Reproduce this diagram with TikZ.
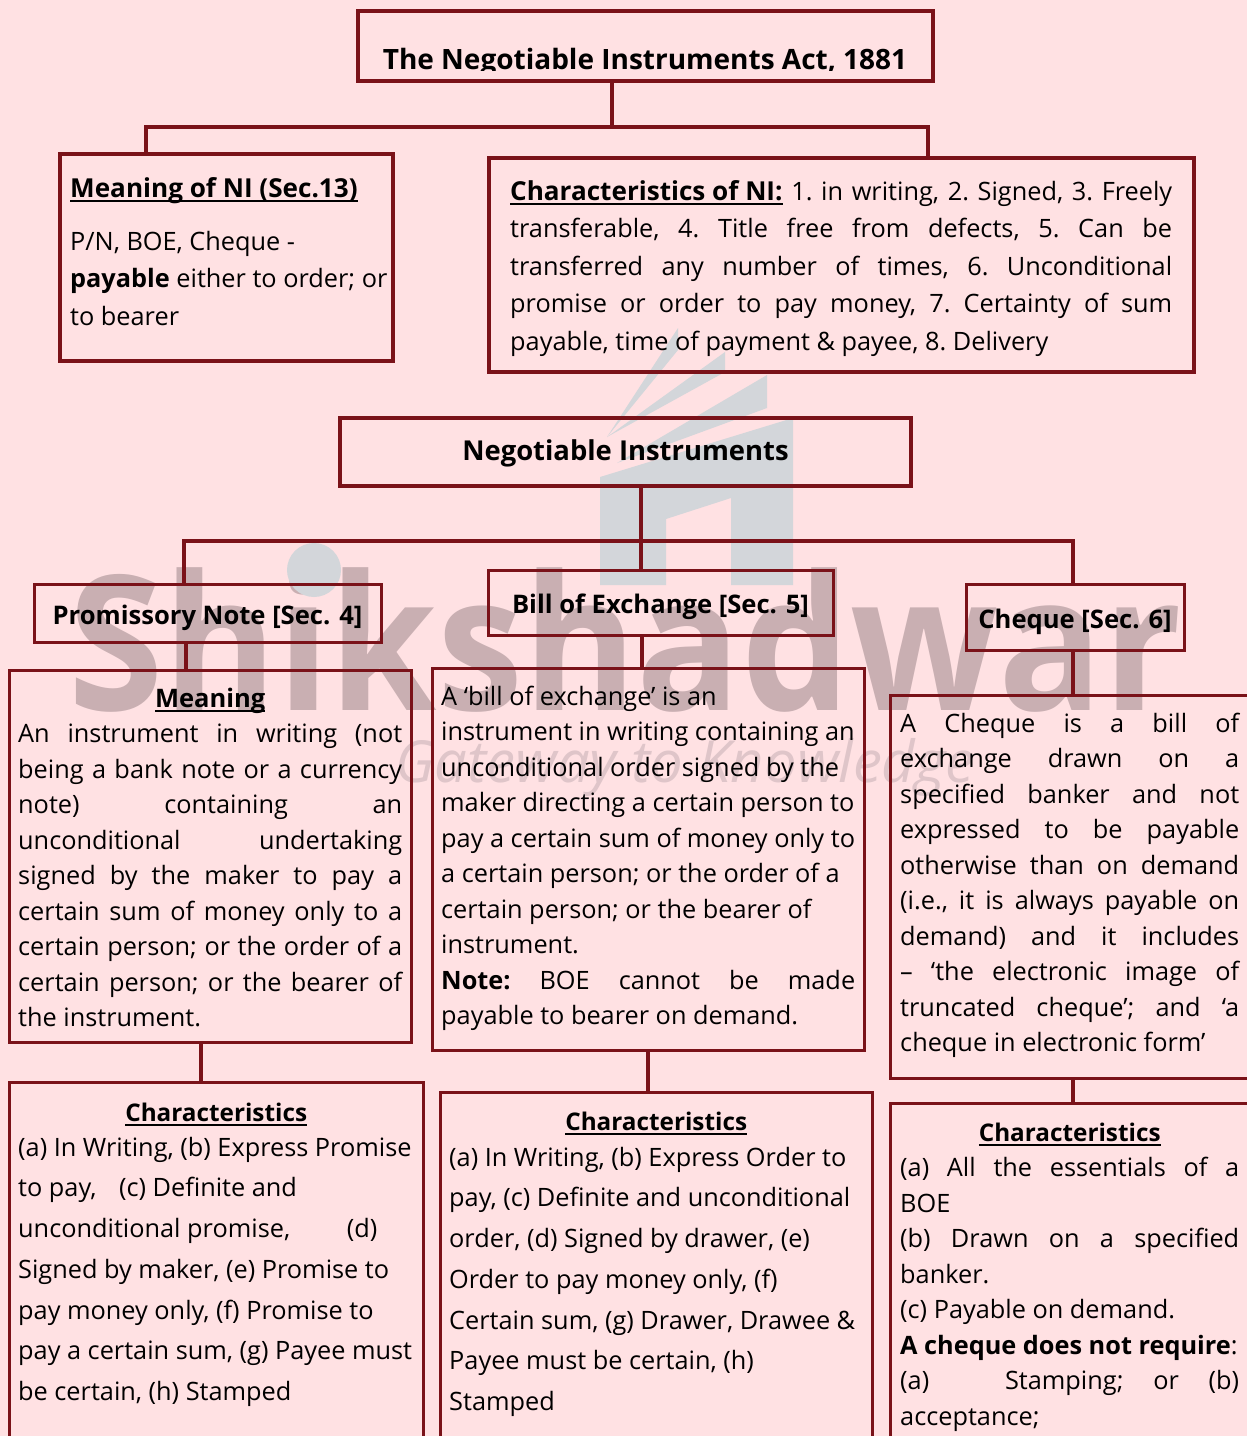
\documentclass[tikz,border=0pt]{standalone}
\usepackage{fontspec}
\setmainfont{Open Sans}
\usetikzlibrary{positioning}
\definecolor{pagepink}{HTML}{FFE1E3}
\definecolor{framered}{HTML}{7A1219}
\definecolor{markbrown}{HTML}{C9AFB2}
\definecolor{markblue}{HTML}{D3D6DA}
\definecolor{markscript}{HTML}{DFC5C9}
\newcommand{\nb}{\linebreak}
\newcommand{\hd}[2][24.3]{\leavevmode{\fontsize{#1}{35}\selectfont\bfseries\setbox0=\hbox{#2}\rlap{\rule[-4.5pt]{\wd0}{1.8pt}}\box0}}
\tikzset{
  frame/.style={draw=framered, anchor=north west, outer sep=0pt, inner sep=0pt, text height=28pt, text depth=6pt, font=\fontsize{25.6}{30}\selectfont\bfseries},
  link/.style={draw=framered, line width=3.2pt},
  body/.style={anchor=north west, inner sep=0pt, align=justify, execute at begin node=\frenchspacing\rule{0pt}{20pt}},
  pitcha/.style={font=\fontsize{25.3}{35.5}\selectfont},
  pitchb/.style={font=\fontsize{25.3}{37.5}\selectfont},
  pitchc/.style={font=\fontsize{25.3}{40.7}\selectfont}
}
\begin{document}
\begin{tikzpicture}[x=1pt,y=-1pt]
   \useasboundingbox (0,0) rectangle (1247,1436);
   \clip (0,0) rectangle (1247,1436);
   \fill[pagepink] (0,0) rectangle (1247,1436);

   % watermark first
   \fill[markblue] (600,477) -- (793,418) -- (793,585) -- (731,585) -- (731,498) -- (666,519) -- (666,585) -- (600,585) -- cycle;
   \fill[markblue] (617,463) -- (767,375) -- (767,408) -- cycle;
   \fill[markblue] (607,437) -- (725,352) -- (725,372) -- cycle;
   \fill[markblue] (607,437) -- (678,328) -- (678,350) -- cycle;
   \node[anchor=base, inner sep=0pt, text=markbrown, xscale=0.92, transform shape, font=\fontsize{188}{200}\selectfont\bfseries] (markname) at (625,710) {Shikshadwar};
   \fill[markblue] (314,570) circle (27);
   \node[anchor=base, inner sep=0pt, text=markscript, font=\fontsize{58}{60}\selectfont\itshape] (markline) at (685,782) {Gateway to Knowledge};

   % boxes: left/top/width/height/line/name/text
   \foreach \x/\y/\w/\h/\lw/\id/\name in {
      {358/11/575/70/3.6/acttitle/},
      {60/154/333/207/4/nimeaning/},
      {489/158/705/214/4/nichar/},
      {34/584/347/58/3/pnhead/Promissory Note [Sec. 4]},
      {488/570/345/65/3/boehead/Bill of Exchange [Sec. 5]},
      {966/584/218/66/3/chqhead/Cheque [Sec. 6]},
      {9/670/402/372/3/pnmeaning/},
      {432/668/432/382/3/boemeaning/},
      {890/695/370/383/3/chqmeaning/},
      {9/1082/414/370/3/pnchar/},
      {440/1092/432/370/3/boechar/},
      {890/1103/370/350/3/chqchar/}}
      \node[frame, line width=\lw pt, minimum width=\w pt, minimum height=\h pt] (\id) at (\x,\y) {\name};
   \node[frame, line width=4pt, minimum width=571pt, minimum height=68pt, text height=22pt, font=\fontsize{27.4}{30}\selectfont\bfseries] (nihead) at (340,418) {Negotiable Instruments};

   % connectors
   \coordinate (actdrop) at (612,127);
   \coordinate (actleft) at (146,127);
   \coordinate (actright) at (928,127);
   \draw[link] (actdrop |- acttitle.south) -- (actdrop);
   \draw[link] (actleft |- nimeaning.north) -- (actleft) -- (actright) -- (actright |- nichar.north);

   \coordinate (nidrop) at (641,541);
   \coordinate (nileft) at (184,541);
   \coordinate (niright) at (1073,541);
   \draw[link] (nidrop |- nihead.south) -- (nidrop) -- (nidrop |- boehead.north);
   \draw[link] (nileft |- pnhead.north) -- (nileft) -- (niright) -- (niright |- chqhead.north);

   \coordinate (pnx) at (186,0);
   \coordinate (boex) at (642,0);
   \coordinate (chqx) at (1073,0);
   \draw[link] (pnx |- pnhead.south) -- (pnx |- pnmeaning.north);
   \draw[link] (boex |- boehead.south) -- (boex |- boemeaning.north);
   \draw[link] (chqx |- chqhead.south) -- (chqx |- chqmeaning.north);

   \coordinate (pnlow) at (201,0);
   \coordinate (boelow) at (648,0);
   \draw[link] (pnlow |- pnmeaning.south) -- (pnlow |- pnchar.north);
   \draw[link] (boelow |- boemeaning.south) -- (boelow |- boechar.north);
   \draw[link] (chqx |- chqmeaning.south) -- (chqx |- chqchar.north);

   % title is cut off at the bottom
   \begin{scope}
      \clip (358,11) rectangle (933,70);
      \node[anchor=base, inner sep=0pt, font=\fontsize{28}{30}\selectfont\bfseries] (acttext) at (645,69) {The Negotiable Instruments Act, 1881};
   \end{scope}

   % first baseline sits 20 below each node's top
   \node[body, pitchb, text width=320pt] (nimeaningtext) at (70,177) {\hd[26.1]{Meaning of NI (Sec.13)}\\[15.5pt]
      P/N, BOE, Cheque -\\
      \textbf{payable} either to order; or\\
      to bearer};
   \node[body, pitchb, text width=662pt] (nichartext) at (510,180) {\hd[26.1]{Characteristics of NI:} 1. in writing, 2. Signed, 3. Freely\nb
      transferable, 4. Title free from defects, 5. Can be\nb
      transferred any number of times, 6. Unconditional\nb
      promise or order to pay money, 7. Certainty of sum\nb
      payable, time of payment \& payee, 8. Delivery};

   \node[body, pitcha, text width=384pt] (pnmeaningtext) at (18,687) {\hfill\hd[25.5]{Meaning}\hfill\mbox{}\nb
      An instrument in writing (not\nb
      being a bank note or a currency\nb
      note) containing an\nb
      unconditional undertaking\nb
      signed by the maker to pay a\nb
      certain sum of money only to a\nb
      certain person; or the order of a\nb
      certain person; or the bearer of\nb
      the instrument.};
   \node[body, pitcha, text width=414pt] (boemeaningtext) at (441,685) {A ‘bill of exchange’ is an\\
      instrument in writing containing an\\
      unconditional order signed by the\\
      maker directing a certain person to\\
      pay a certain sum of money only to\\
      a certain person; or the order of a\\
      certain person; or the bearer of\\
      instrument.\\
      \textbf{Note:} BOE cannot be made\nb
      payable to bearer on demand.};
   \node[body, pitcha, text width=339pt] (chqmeaningtext) at (900,712) {A Cheque is a bill of\nb
      exchange drawn on a\nb
      specified banker and not\nb
      expressed to be payable\nb
      otherwise than on demand\nb
      (i.e., it is always payable on\nb
      demand) and it includes\nb
      – ‘the electronic image of\nb
      truncated cheque’; and ‘a\nb
      cheque in electronic form’};

   \node[body, pitcha, text width=396pt] (pncharhead) at (18,1101) {\hfill\hd{Characteristics}\hfill\mbox{}};
   \node[body, pitchc, text width=402pt] (pnchartext) at (18,1136) {(a) In Writing, (b) Express Promise\\
      to pay,\hspace{16pt} (c) Definite and\\
      unconditional promise,\hspace{50pt} (d)\\
      Signed by maker, (e) Promise to\\
      pay money only, (f) Promise to\\
      pay a certain sum, (g) Payee must\\
      be certain, (h) Stamped};
   \node[body, pitcha, text width=414pt] (boecharhead) at (449,1110) {\hfill\hd{Characteristics}\hfill\mbox{}};
   \node[body, pitchc, text width=418pt] (boechartext) at (449,1146) {(a) In Writing, (b) Express Order to\\
      pay, (c) Definite and unconditional\\
      order, (d) Signed by drawer, (e)\\
      Order to pay money only, (f)\\
      Certain sum, (g) Drawer, Drawee \&\\
      Payee must be certain, (h)\\
      Stamped};
   \node[body, pitcha, text width=339pt] (chqchartext) at (900,1121) {\hfill\hd{Characteristics}\hfill\mbox{}\nb
      (a) All the essentials of a\nb
      BOE\\
      (b) Drawn on a specified\nb
      banker.\\
      (c) Payable on demand.\\
      \textbf{A cheque does not require}:\\
      (a)\hspace{46pt} Stamping; or (b)\nb
      acceptance;};
\end{tikzpicture}
\end{document}
